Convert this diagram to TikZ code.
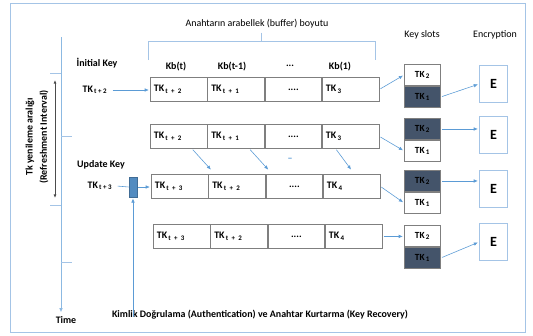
\documentclass[tikz,border=0pt]{standalone}
\usepackage{fontspec}
\setmainfont{Carlito}
\usetikzlibrary{arrows.meta}

\definecolor{okmavi}{HTML}{5B9BD5}
\definecolor{acikmavi}{HTML}{A4C4E6}
\definecolor{koyu}{HTML}{44546A}
\definecolor{hucregri}{HTML}{7F7F7F}

\newcommand{\tk}[1]{TK\textsubscript{\,#1}}

\begin{document}
\begin{tikzpicture}[
    x=0.03cm,y=-0.03cm,
    ok/.style={draw=okmavi,line width=0.5pt,-{Latex[length=3.5pt,width=3pt]},shorten >=1pt,shorten <=1pt},
    cizgi/.style={draw=acikmavi,line width=0.8pt},
    hucre/.style={draw=hucregri,line width=0.7pt,text width=1.485cm,inner xsep=3pt,inner ysep=0pt,
                  minimum height=0.72cm,align=left,anchor=north west,font=\fontsize{8.5}{10}\selectfont\bfseries},
    yuva/.style={draw=hucregri,line width=0.8pt,minimum width=1.08cm,minimum height=0.63cm,inner sep=1pt,
                 anchor=north west,font=\fontsize{8}{10}\selectfont\bfseries},
    dolu/.style={fill=koyu},
    sifre/.style={draw=acikmavi,line width=0.9pt,minimum width=0.84cm,minimum height=1.11cm,
                  anchor=north west,font=\fontsize{12}{14}\selectfont\bfseries},
    baslik/.style={font=\fontsize{8.5}{10}\selectfont\bfseries},
    yazi/.style={font=\fontsize{8.5}{10}\selectfont}]

  \useasboundingbox (0,0) rectangle (533,335);

  % ---- cerceve ve zaman ekseni -------------------------------------------
  \draw[cizgi] (10,3) rectangle (525,332);

  \coordinate (z0) at (61,37);
  \node[baslik] (zaman) at (66,320) {Time};
  \draw[draw=acikmavi,line width=0.8pt,-{Latex[length=3.5pt,width=3pt]},color=okmavi!70] (z0) -- (zaman.north -| z0);

  \draw[cizgi] (50,73) -- (61,73);
  \draw[cizgi] (61,136) -- (72,136);
  \draw[cizgi] (50,205) -- (61,205);
  \draw[cizgi] (61,262) -- (72,262);

  % yenileme araligi
  \coordinate (a0) at (55,80);
  \coordinate (a1) at (55,198);
  \draw[draw=black!70,line width=0.6pt,{Latex[length=3pt,width=2.5pt]}-{Latex[length=3pt,width=2.5pt]}] (a0) -- (a1);
  \node[rotate=90,align=center,font=\fontsize{8.5}{12}\selectfont\bfseries] (aralik) at (37,137)
    {Tk yenileme aralığı\\(Refreshment Interval)};

  % ---- ust baslik ve parantez --------------------------------------------
  \node[yazi] (arabellek) at (257,24) {Anahtarın arabellek (buffer) boyutu};
  \coordinate (orta) at (261,41);
  \draw[cizgi] (148,60) -- (148,41) -- (375,41) -- (375,60);
  \draw[cizgi] (arabellek.south -| orta) -- (orta);

  \node[baslik] (kb1) at (176,67) {Kb(t)};
  \node[baslik] (kb2) at (232,67) {Kb(t-1)};
  \node[baslik] (kb3) at (290,66) {...};
  \node[baslik] (kb4) at (340,67) {Kb(1)};

  % ---- arabellek satirlari -----------------------------------------------
  \foreach \r/\yy/\xx/\p/\q/\s in {1/77/150/{t + 2}/{t + 1}/3,
                                   2/124/150/{t + 2}/{t + 1}/3,
                                   3/174/151/{t + 3}/{t + 2}/4,
                                   4/224/153/{t + 3}/{t + 2}/4}{
    \node[hucre] (s\r-1) at (\xx,\yy) {\tk{\p}};
    \node[hucre,anchor=west] (s\r-2) at (s\r-1.east) {\tk{\q}};
    \node[hucre,anchor=west,align=center] (s\r-3) at (s\r-2.east) {....};
    \node[hucre,anchor=west] (s\r-4) at (s\r-3.east) {\tk{\s}};
  }

  \node[baslik,text=okmavi] (tire) at (290,160) {--};

  % ---- anahtar girisleri -------------------------------------------------
  \node[baslik] (ilkbas) at (97,63) {İnitial Key};
  \node[baslik] (ilk) at (95,90) {\tk{t + 2}};
  \draw[ok] (ilk.east) -- (ilk.east -| s1-1.west);

  \node[baslik] (gunbas) at (101,165) {Update Key};
  \node[baslik] (gun) at (100,186) {\tk{t + 3}};
  \node[draw=okmavi!70!black,fill=okmavi!90!black,line width=0.5pt,minimum width=0.24cm,minimum height=0.6cm,inner sep=0pt]
    (dogrula) at (133,187) {};
  \draw[draw=okmavi,line width=0.5pt,shorten <=1pt] (gun.east) -- (dogrula.west);
  \draw[ok] (dogrula.east) -- (dogrula.east -| s3-1.west);

  \node[baslik] (kimlik) at (260,315) {Kimlik Doğrulama (Authentication) ve Anahtar Kurtarma (Key Recovery)};
  \draw[ok] ([yshift=-10pt]kimlik.north -| dogrula) -- (dogrula.south);

  % ---- kaydirma oklari ---------------------------------------------------
  \draw[ok] ([xshift=0.4cm]s2-1.south) -- ([xshift=0.1cm,yshift=3pt]s3-1.north east);
  \draw[ok] ([xshift=0.4cm]s2-2.south) -- ([xshift=0.1cm,yshift=3pt]s3-2.north east);
  \draw[ok] ([xshift=-0.45cm]s2-4.south) -- ([yshift=3pt]s3-4.north);

  % ---- anahtar yuvalari ve sifreleme -------------------------------------
  \node[yazi] (yuvabas) at (422,35) {Key slots};
  \node[yazi] (sifrebas) at (495,35) {Encryption};

  \foreach \i/\yy/\ey/\ust/\alt in {1/64/65/{}/dolu, 2/118/116/dolu/{}, 3/170/170/dolu/{}, 4/225/223/{}/dolu}{
    \node[yuva,\ust] (k\i u) at (404,\yy) {TK\textsubscript{\,2}};
    \node[yuva,\alt,anchor=north] (k\i a) at (k\i u.south) {TK\textsubscript{\,1}};
    \node[sifre] (e\i) at (479,\ey) {E};
  }

  \draw[ok] (s1-4.east) -- (k1u.west);
  \draw[ok] (k1a.east) -- (e1.west);
  \draw[ok] (s2-4.east) -- (k2a.west);
  \draw[ok] (k2u.east) -- (k2u.east -| e2.west);
  \draw[ok] (s3-4.east) -- (k3a.west);
  \draw[ok] (k3u.east) -- (k3u.east -| e3.west);
  \draw[ok] (s4-4.east) -- (s4-4.east -| k4u.west);
  \draw[ok] (k4a.east) -- (e4.west);

\end{tikzpicture}
\end{document}
